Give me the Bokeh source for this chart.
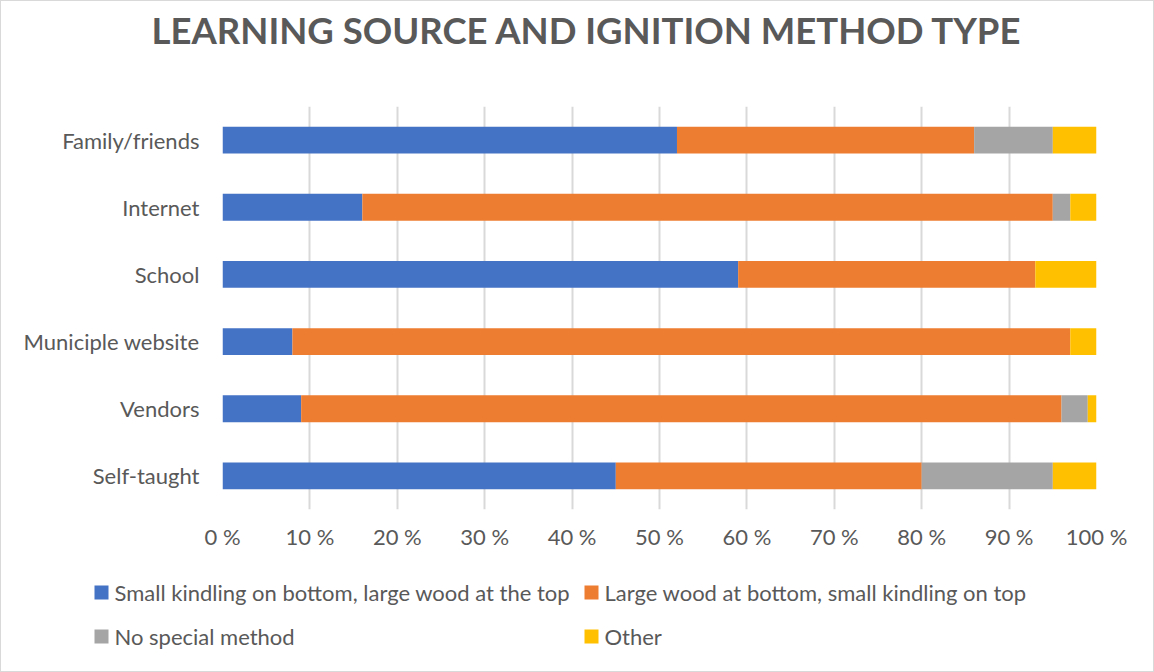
from bokeh.plotting import figure
from bokeh.models import FactorRange, FixedTicker, PrintfTickFormatter, Title, Range1d
from bokeh.core.properties import value
from bokeh.embed import file_html
from bokeh.resources import INLINE

# Learning sources (top to bottom) and share of each ignition method, in percent
sources = ["Family/friends", "Internet", "School", "Municiple website", "Vendors", "Self-taught"]
small_kindling_bottom = [52, 16, 59, 8, 9, 45]
large_wood_bottom = [34, 79, 34, 89, 87, 35]
no_special_method = [9, 2, 0, 0, 3, 15]
other = [5, 3, 7, 3, 1, 5]

methods = ["small_kindling_bottom", "large_wood_bottom", "no_special_method", "other"]
labels = [
    "Small kindling on bottom, large wood at the top",
    "Large wood at bottom, small kindling on top",
    "No special method",
    "Other",
]
colors = ["#4472C4", "#ED7D31", "#A5A5A5", "#FFC000"]
ticks = list(range(0, 101, 10))

FONT = "Lato"
TEXT = "#595959"
W, H_MAIN, H_LEG = 1154, 570, 102

data = dict(
    source=sources,
    small_kindling_bottom=small_kindling_bottom,
    large_wood_bottom=large_wood_bottom,
    no_special_method=no_special_method,
    other=other,
)

# --- stacked bar chart ---
p = figure(
    width=W, height=H_MAIN,
    y_range=FactorRange(factors=list(reversed(sources))),
    x_range=(0, 100),
    output_backend="svg", toolbar_location=None,
    min_border_left=221, min_border_right=59,
    min_border_top=105, min_border_bottom=H_MAIN - 508,
)
p.title = None

# empty spacer keeps the heading clear of the bars
p.add_layout(Title(text=" ", text_font_size="1px", standoff=52), "above")
p.add_layout(Title(text="LEARNING SOURCE AND IGNITION METHOD TYPE", align="left",
                   offset=-71, standoff=0,
                   text_font=FONT, text_font_size="36.5px", text_font_style="bold",
                   text_color=TEXT), "above")

p.hbar_stack(methods, y="source", height=0.4, color=colors,
             line_color=None, source=data)

p.xaxis.ticker = FixedTicker(ticks=ticks)
p.xaxis.formatter = PrintfTickFormatter(format="%d %%")
for ax in (p.xaxis, p.yaxis):
    ax.axis_line_color = None
    ax.major_tick_line_color = None
    ax.minor_tick_line_color = None
    ax.major_label_text_font = FONT
    ax.major_label_text_font_size = "22px"
    ax.major_label_text_color = TEXT
p.xaxis.major_label_standoff = 7
p.yaxis.major_label_standoff = 17

p.xgrid.grid_line_color = "#D9D9D9"
p.xgrid.grid_line_width = 2
p.ygrid.grid_line_color = None
p.outline_line_color = None
p.border_fill_color = "white"
p.background_fill_color = "white"
p.styles = {"border": "1px solid #D9D9D9", "border-bottom": "none", "box-sizing": "border-box"}

# --- legend strip: two columns, two rows, laid out in pixels ---
lg = figure(
    width=W, height=H_LEG,
    x_range=Range1d(0, W), y_range=Range1d(H_LEG, 0),
    output_backend="svg", toolbar_location=None,
    x_axis_location=None, y_axis_location=None,
    min_border=0, min_border_left=0, min_border_right=0,
    min_border_top=0, min_border_bottom=0,
)
lg.grid.grid_line_color = None
lg.outline_line_color = None
lg.border_fill_color = "white"
lg.background_fill_color = "white"

col_x = [100, 590, 100, 590]
row_y = [22, 22, 66, 66]
lg.scatter(x=col_x, y=row_y, marker="square", size=14, color=colors, line_color=None)
lg.text(x=[x + 13 for x in col_x], y=row_y, text=labels,
        text_font=value(FONT), text_font_size="22px", text_color=TEXT,
        text_baseline="middle", text_align="left")
lg.styles = {"border": "1px solid #D9D9D9", "border-top": "none", "box-sizing": "border-box"}

with open("out.html", "w") as f:
    f.write(file_html([p, lg], INLINE))
